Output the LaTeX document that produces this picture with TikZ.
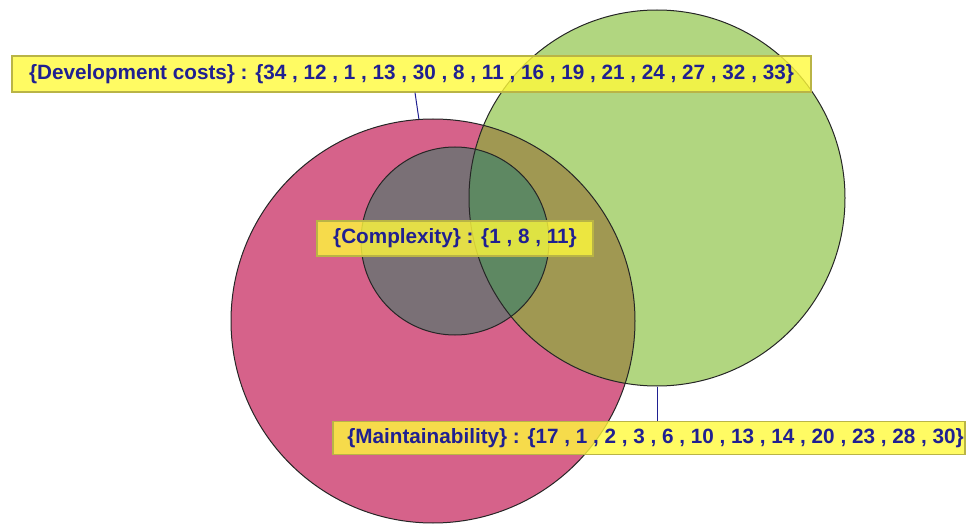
\documentclass[tikz,border=0pt]{standalone}
\usepackage{fontspec}
\setmainfont{Liberation Sans}
\definecolor{setpink}{RGB}{214,98,138}
\definecolor{setgreen}{RGB}{177,214,128}
\definecolor{setgray}{RGB}{122,112,118}
\definecolor{setolive}{RGB}{160,152,82}
\definecolor{setdkgreen}{RGB}{94,136,98}
\definecolor{labelfill}{RGB}{255,250,60}
\definecolor{labelrule}{RGB}{185,180,70}
\definecolor{labelink}{RGB}{32,32,145}
\begin{document}
\begin{tikzpicture}[x=1pt,y=-1pt,
  setring/.style={circle, draw=black!85, line width=1pt, inner sep=0pt},
  labelbox/.style={draw=labelrule, line width=1.2pt, fill=labelfill,
    fill opacity=0.8, text opacity=1, text=labelink, inner sep=0pt,
    font=\fontsize{20.7}{24}\selectfont\bfseries},
  link/.style={draw=labelink, line width=1pt}]
\useasboundingbox (0,0) rectangle (970,524);
% filled regions of the three sets and their overlaps
\fill[setpink] (433,321) circle[radius=202pt];
\fill[setgreen] (657,198) circle[radius=188pt];
\begin{scope}
  \clip (657,198) circle[radius=188pt];
  \fill[setolive] (433,321) circle[radius=202pt];
\end{scope}
\fill[setgray] (455,241) circle[radius=94pt];
\begin{scope}
  \clip (657,198) circle[radius=188pt];
  \fill[setdkgreen] (455,241) circle[radius=94pt];
\end{scope}
% set outlines
\node[setring, minimum size=404pt] (devset) at (433,321) {};
\node[setring, minimum size=376pt] (maintset) at (657,198) {};
\node[setring, minimum size=188pt] (cplxset) at (455,241) {};
% labels
\node[labelbox, minimum width=799pt, minimum height=36pt] (devlabel) at (411.5,74)
  {\{Development costs\} : \{34 , 12 , 1 , 13 , 30 , 8 , 11 , 16 , 19 , 21 , 24 , 27 , 32 , 33\}};
\node[labelbox, minimum width=276pt, minimum height=35pt] (cplxlabel) at (455,238.5)
  {\{Complexity\} : \{1 , 8 , 11\}};
\node[labelbox, minimum width=632pt, minimum height=33pt] (maintlabel) at (649,438)
  {\hspace*{13pt}\{Maintainability\} : \{17 , 1 , 2 , 3 , 6 , 10 , 13 , 14 , 20 , 23 , 28 , 30\}};
% connectors from labels to their sets
\draw[link] ([xshift=3.5pt]devlabel.south) -- (devset.94.5);
\draw[link] (maintset.south) -- (maintset.south |- maintlabel.north);
\end{tikzpicture}
\end{document}
